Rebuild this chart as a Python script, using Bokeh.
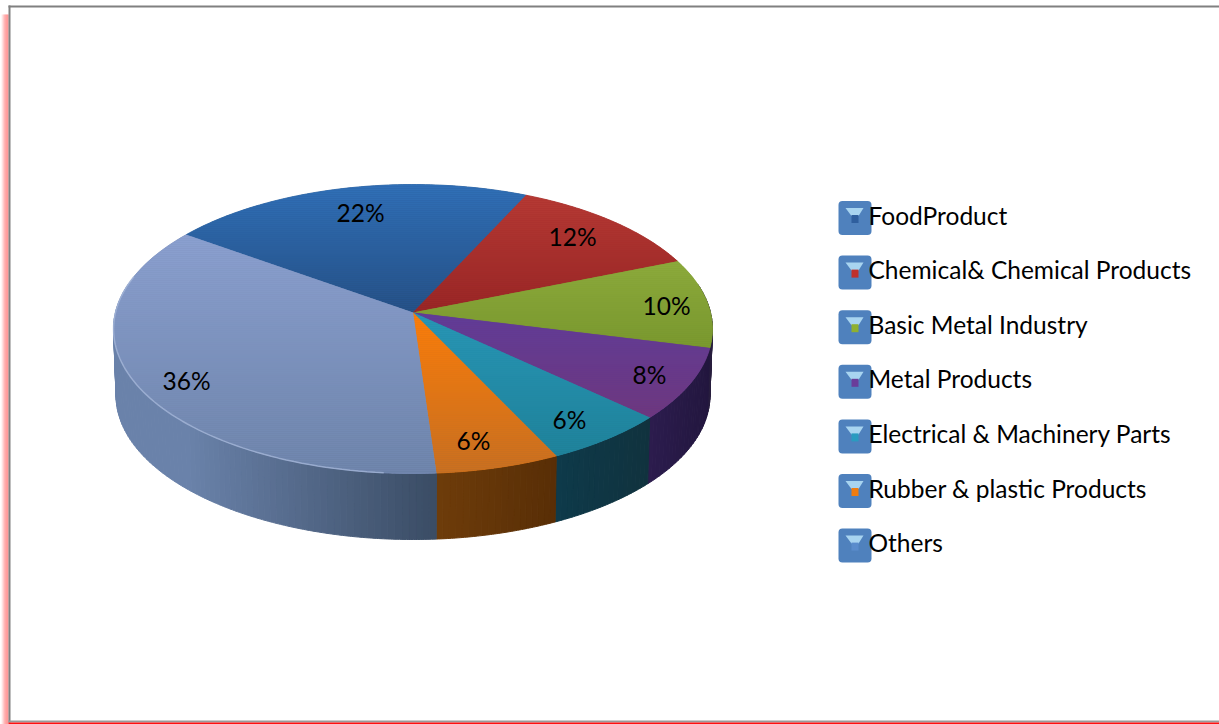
import numpy as np
from bokeh.core.properties import value
from bokeh.embed import file_html
from bokeh.models import Range1d
from bokeh.plotting import figure
from bokeh.resources import INLINE

# Industry shares, clockwise from the Food Product slice
categories = ["FoodProduct", "Chemical& Chemical Products", "Basic Metal Industry",
              "Metal Products", "Electrical & Machinery Parts", "Rubber & plastic Products", "Others"]
shares = [22, 12, 10, 8, 6, 6, 36]
share_labels = ["22%", "12%", "10%", "8%", "6%", "6%", "36%"]
label_x = [360, 572, 666, 649, 569, 473, 186]
label_y = [212, 236, 305, 374, 419, 440, 380]
# Colour of each top face at its upper and lower end
top_hi = [(48, 112, 184), (182, 58, 52), (140, 170, 60), (96, 60, 152), (40, 150, 182), (252, 125, 8), (139, 160, 208)]
top_lo = [(36, 78, 130), (150, 36, 36), (120, 150, 45), (110, 55, 125), (30, 128, 152), (195, 110, 35), (108, 130, 168)]
# Colour of each side wall at its left and right end
side_l = [(30, 60, 100), (90, 25, 25), (40, 30, 62), (44, 28, 78), (14, 58, 74), (110, 60, 10), (106, 130, 170)]
side_r = [(30, 60, 100), (90, 25, 25), (40, 30, 62), (34, 22, 62), (16, 50, 62), (88, 46, 6), (58, 76, 100)]
swatch_colors = ["#2f5f9e", "#c0302c", "#8fb030", "#6a3d9a", "#2a9bc0", "#f07c10", "#5a8ccc"]

W, H = 1219, 724
CX, CY = 412.5, 312.0
K, B, R = 0.1142, 142.6, 297.5
START_DEG = -54.4


def rim(theta, radius=R, height=B, dy=0.0):
    """Project a rim angle (clockwise from the back) on to the tilted disc."""
    u, v = np.sin(theta), -np.cos(theta)
    d = 1 - K * v
    return CX + radius * u / d, CY + dy + height * v / d


def clip_band(px, py, y0, y1):
    """Clip a polygon to the horizontal band y0..y1."""
    pts = list(zip(px, py))
    for limit, keep_below in ((y0, True), (y1, False)):
        out = []
        for i, a in enumerate(pts):
            b = pts[(i + 1) % len(pts)]
            ina = a[1] >= limit if keep_below else a[1] <= limit
            inb = b[1] >= limit if keep_below else b[1] <= limit
            if ina:
                out.append(a)
            if ina != inb:
                t = (limit - a[1]) / (b[1] - a[1])
                out.append((a[0] + t * (b[0] - a[0]), limit))
        pts = out
        if not pts:
            return [], []
    return [q[0] for q in pts], [q[1] for q in pts]


def mix(c0, c1, t):
    t = min(max(t, 0.0), 1.0)
    return "#%02x%02x%02x" % tuple(int(round(a + (b - a) * t)) for a, b in zip(c0, c1))


p = figure(width=W, height=H, output_backend="svg", toolbar_location=None,
           x_range=Range1d(0, W), y_range=Range1d(H, 0),
           min_border=0, outline_line_color=None, background_fill_color="white")
p.axis.visible = False
p.grid.visible = False

# Page frame: pink glow on the left, grey rule, red rule along the foot
glow = [(255, 255, 255), (255, 235, 235), (255, 205, 205), (255, 175, 175), (255, 150, 150), (255, 135, 135), (255, 125, 125), (255, 120, 120)]
p.quad(left=list(range(8)), right=list(range(1, 9)), top=[14] * 8, bottom=[H] * 8,
       fill_color=["#%02x%02x%02x" % g for g in glow], line_color=None)
p.quad(left=[8], right=[10], top=[5], bottom=[722], fill_color="#808080", line_color=None)
p.quad(left=[8], right=[W], top=[5], bottom=[7], fill_color="#808080", line_color=None)
p.quad(left=[8], right=[W], top=[720], bottom=[722], fill_color="#9a9a9a", line_color=None)
p.quad(left=[8], right=[W], top=[722], bottom=[H], fill_color="#ff1010", line_color=None)

# Slice boundaries derived from the shares
edges = np.radians(START_DEG + np.cumsum([0] + shares) * 3.6)

# Side walls, shaded across their width
side_xs, side_ys, side_cols = [], [], []
for i in range(len(shares)):
    angs = np.linspace(edges[i], edges[i + 1], int(shares[i] * 3) + 2)
    x_a, _ = rim(angs[0])
    x_b, _ = rim(angs[-1])
    for a0, a1 in zip(angs[:-1], angs[1:]):
        if np.cos((a0 + a1) / 2) > 0.2:
            continue
        sub = np.linspace(a0, a1, 4)
        tx, ty = rim(sub)
        bx, by = rim(sub, 295.0, 142.0, 66.7)
        xm = float(np.mean(tx))
        lo, hi = sorted((x_a, x_b))
        side_xs.append(list(tx) + list(bx[::-1]))
        side_ys.append(list(ty) + list(by[::-1]))
        side_cols.append(mix(side_l[i], side_r[i], (xm - lo) / max(hi - lo, 1)))
p.patches(side_xs, side_ys, fill_color=side_cols, line_color=side_cols, line_width=1)

# Top faces: a flat underlay per slice, then pixel-aligned shading bands over it
under_xs, under_ys, under_cols = [], [], []
top_xs, top_ys, top_cols = [], [], []
for i in range(len(shares)):
    angs = np.linspace(edges[i], edges[i + 1], 80)
    ex, ey = rim(angs)
    px = [CX] + list(ex)
    py = [CY] + list(ey)
    under_xs.append(px)
    under_ys.append(py)
    under_cols.append(mix(top_hi[i], top_lo[i], 0.5))
    ymin, ymax = min(py), max(py)
    y = float(np.floor(ymin))
    while y < ymax:
        bx, by = clip_band(px, py, y, y + 2)
        if len(bx) >= 3:
            top_xs.append(bx)
            top_ys.append(by)
            top_cols.append(mix(top_hi[i], top_lo[i], (y + 1 - ymin) / (ymax - ymin)))
        y += 2
p.patches(under_xs, under_ys, fill_color=under_cols, line_color=under_cols, line_width=0.8)
p.patches(top_xs, top_ys, fill_color=top_cols, line_color=None)

# Light bevel along the lower left rim of the largest slice
bevel = np.linspace(np.radians(185), np.radians(285), 70)
bev_x, bev_y = rim(bevel)
p.line(bev_x, bev_y, line_color="#a9bbdc", line_width=1.5, line_alpha=0.7)

# Percentage labels
p.text(label_x, label_y, text=share_labels, text_font=value("Lato"), text_font_size="24.5px",
       text_color="#000000", text_align="center", text_baseline="middle")

# Legend: blue button with funnel and coloured pip, followed by the name
row_y = [217.5 + 54.6 * i for i in range(len(categories))]
p.quad(left=[838] * 7, right=[871] * 7, top=[y - 17 for y in row_y], bottom=[y + 17 for y in row_y],
       fill_color="#4f81bd", line_color=None, border_radius=4)
p.patches([[845, 863, 858, 851]] * 7, [[y - 10, y - 10, y - 2, y - 2] for y in row_y],
          fill_color="#a8d4f0", line_color=None)
p.quad(left=[851] * 7, right=[858] * 7, top=[y - 3 for y in row_y], bottom=[y + 5 for y in row_y],
       fill_color=swatch_colors, line_color=None)
p.text([868] * 7, [y - 3 for y in row_y], text=categories, text_font=value("Lato"), text_font_size="24.5px",
       text_color="#000000", text_align="left", text_baseline="middle")

open("out.html", "w").write(file_html(p, INLINE))
